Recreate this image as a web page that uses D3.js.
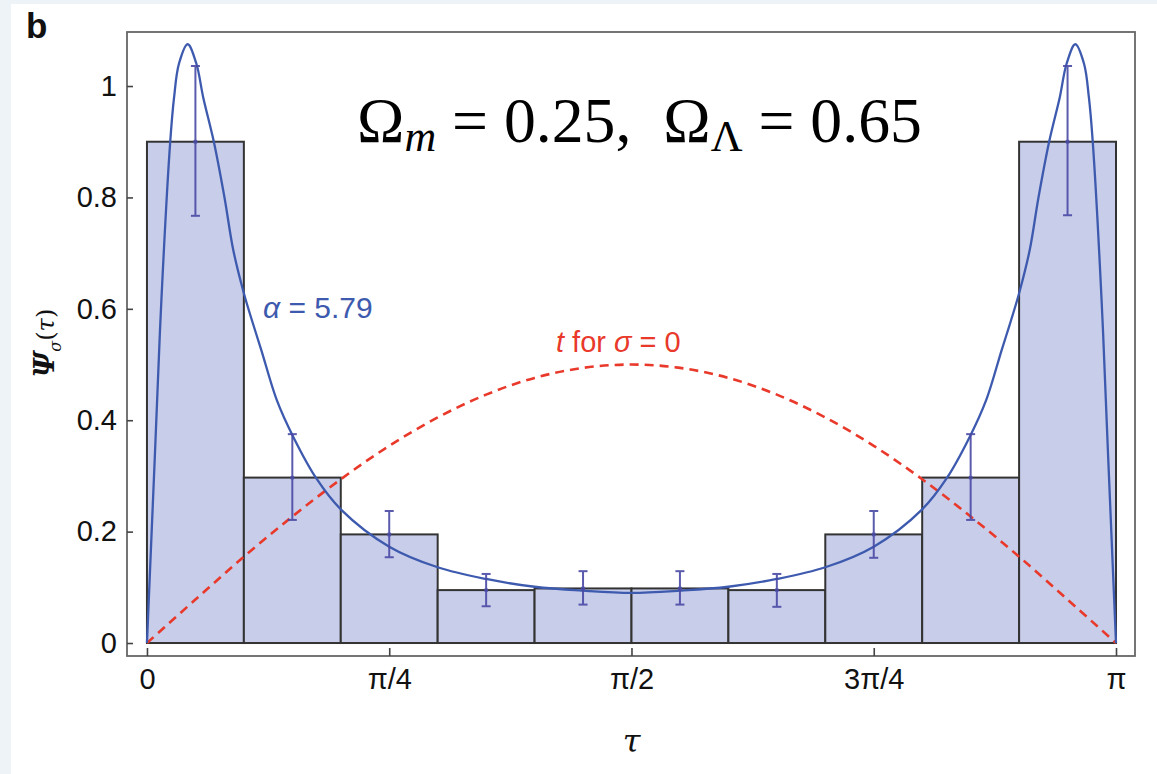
<!DOCTYPE html>
<html><head><meta charset="utf-8">
<script src="https://cdn.jsdelivr.net/npm/d3@7"></script>
<style>body{margin:0;background:#fff;} svg{display:block}</style>
</head><body>
<script>
// ---- data (τ expressed in units of π) ----
const binEdges = [0, 0.1, 0.2, 0.3, 0.4, 0.5, 0.6, 0.7, 0.8, 0.9, 1.0];
const binValues = [0.90, 0.297, 0.195, 0.095, 0.098, 0.098, 0.095, 0.195, 0.297, 0.90];
const errLow  = [0.767, 0.221, 0.154, 0.066, 0.069, 0.069, 0.065, 0.153, 0.221, 0.768];
const errHigh = [1.036, 0.375, 0.237, 0.124, 0.129, 0.129, 0.124, 0.237, 0.375, 1.036];

const fitTau = [0, 0.008, 0.015, 0.024, 0.028, 0.033, 0.042, 0.051, 0.058, 0.069, 0.080, 0.089, 0.100,
  0.110, 0.118, 0.134, 0.151, 0.175, 0.200, 0.250, 0.300, 0.350, 0.400, 0.450, 0.500,
  0.550, 0.600, 0.650, 0.700, 0.750, 0.800, 0.825, 0.849, 0.866, 0.882, 0.890, 0.900, 0.911, 0.920, 0.931, 0.942,
  0.949, 0.958, 0.967, 0.972, 0.976, 0.985, 0.992, 1.000];
const fitPsi = [0, 0.33, 0.62, 0.90, 0.98, 1.04, 1.075, 1.04, 0.98, 0.90, 0.80, 0.706, 0.628,
  0.57, 0.526, 0.436, 0.37, 0.295, 0.24, 0.173, 0.136, 0.115, 0.101, 0.094, 0.090,
  0.094, 0.101, 0.115, 0.136, 0.173, 0.24, 0.295, 0.37, 0.436, 0.526, 0.57, 0.628, 0.706, 0.80, 0.90, 0.98,
  1.04, 1.075, 1.04, 0.98, 0.90, 0.62, 0.33, 0];

const sigma0Tau = [0, 0.05, 0.1, 0.15, 0.2, 0.25, 0.3, 0.35, 0.4, 0.45, 0.5, 0.55, 0.6, 0.65, 0.7, 0.75, 0.8, 0.85, 0.9, 0.95, 1.0];
const sigma0T   = [0, 0.078, 0.155, 0.227, 0.294, 0.354, 0.405, 0.446, 0.476, 0.494, 0.5, 0.494, 0.476, 0.446, 0.405, 0.354, 0.294, 0.227, 0.155, 0.078, 0];

const xTickValues = [0, 0.25, 0.5, 0.75, 1];
const xTickLabels = ["0", "π/4", "π/2", "3π/4", "π"];
const yTickValues = [0, 0.2, 0.4, 0.6, 0.8, 1];
const yTickLabels = ["0", "0.2", "0.4", "0.6", "0.8", "1"];

// ---- layout ----
const W = 1157, H = 774;
const plot = {left: 127, top: 32, right: 1135, bottom: 656};

const svg = d3.select("body").append("svg").attr("width", W).attr("height", H);

// background strips
svg.append("rect").attr("width", W).attr("height", H).attr("fill", "#eef3f7");
svg.append("rect").attr("x", 11).attr("y", 4).attr("width", W - 11).attr("height", H - 4).attr("fill", "#ffffff");

const x = d3.scaleLinear().domain([-0.0206, 1.0196]).range([plot.left, plot.right]);
const y = d3.scaleLinear().domain([-0.0233, 1.097]).range([plot.bottom, plot.top]);

// bars
const bins = binValues.map((v, i) => ({x0: binEdges[i], x1: binEdges[i + 1], v, lo: errLow[i], hi: errHigh[i]}));
svg.append("g").selectAll("rect").data(bins).join("rect")
  .attr("x", d => x(d.x0)).attr("y", d => y(d.v))
  .attr("width", d => x(d.x1) - x(d.x0)).attr("height", d => y(0) - y(d.v))
  .attr("fill", "#c8cdea").attr("stroke", "#333").attr("stroke-width", 2);

// red dashed σ=0 curve
svg.append("path")
  .datum(sigma0Tau.map((t, i) => [t, sigma0T[i]]))
  .attr("d", d3.line().x(d => x(d[0])).y(d => y(d[1])).curve(d3.curveCatmullRom))
  .attr("fill", "none").attr("stroke", "#e8392b").attr("stroke-width", 2.6)
  .attr("stroke-dasharray", "9,6");

// blue fit curve
svg.append("path")
  .datum(fitTau.map((t, i) => [t, fitPsi[i]]))
  .attr("d", d3.line().x(d => x(d[0])).y(d => y(d[1])).curve(d3.curveCatmullRom.alpha(0.5)))
  .attr("fill", "none").attr("stroke", "#3d5aae").attr("stroke-width", 2.3);

// error bars
const eg = svg.append("g").attr("stroke", "#4a4aa6").attr("stroke-width", 2).attr("opacity", 0.9);
bins.forEach(d => {
  const cx = x((d.x0 + d.x1) / 2);
  eg.append("line").attr("x1", cx).attr("x2", cx).attr("y1", y(d.lo)).attr("y2", y(d.hi));
  eg.append("line").attr("x1", cx - 4.5).attr("x2", cx + 4.5).attr("y1", y(d.lo)).attr("y2", y(d.lo));
  eg.append("line").attr("x1", cx - 4.5).attr("x2", cx + 4.5).attr("y1", y(d.hi)).attr("y2", y(d.hi));
  eg.append("circle").attr("cx", cx).attr("cy", y(d.v)).attr("r", 2.2).attr("fill", "#4a4aa6").attr("stroke", "none");
});

// frame
svg.append("rect").attr("x", plot.left).attr("y", plot.top)
  .attr("width", plot.right - plot.left).attr("height", plot.bottom - plot.top)
  .attr("fill", "none").attr("stroke", "#666").attr("stroke-width", 1.8);

// axes
const fontTick = "'Liberation Sans', Arial, sans-serif";
const yAxis = svg.append("g").attr("transform", `translate(${plot.left},0)`)
  .call(d3.axisLeft(y).tickValues(yTickValues).tickFormat((d, i) => yTickLabels[i]).tickSize(-6).tickPadding(10));
const xAxis = svg.append("g").attr("transform", `translate(0,${plot.bottom})`)
  .call(d3.axisBottom(x).tickValues(xTickValues).tickFormat((d, i) => xTickLabels[i]).tickSize(-8).tickPadding(12));
[yAxis, xAxis].forEach(a => {
  a.select(".domain").remove();
  a.selectAll(".tick line").attr("stroke", "#444").attr("stroke-width", 1.6);
  a.selectAll(".tick text").attr("fill", "#111").style("font-family", fontTick).style("font-size", "29px");
});

// axis titles
svg.append("text").attr("x", x(0.5)).attr("y", 752).attr("text-anchor", "middle")
  .style("font-family", "'DejaVu Serif', serif").style("font-style", "italic").style("font-size", "32px")
  .attr("fill", "#111").text("τ");

const yl = svg.append("text").attr("transform", "translate(54,343) rotate(-90)")
  .attr("text-anchor", "middle").attr("fill", "#111")
  .style("font-family", "'DejaVu Serif', serif").style("font-size", "24px");
yl.append("tspan").style("font-weight", "bold").style("font-style", "italic").style("font-size", "28px").text("Ψ");
yl.append("tspan").attr("dy", 7).style("font-style", "italic").style("font-size", "16px").text("σ");
yl.append("tspan").attr("dy", -7).text("(");
yl.append("tspan").style("font-style", "italic").text("τ");
yl.append("tspan").text(")");

// panel letter
svg.append("text").attr("x", 26).attr("y", 38)
  .style("font-family", "'Liberation Sans', Arial, sans-serif").style("font-weight", "bold").style("font-size", "35px")
  .attr("fill", "#111").text("b");

// curve labels
const al = svg.append("text").attr("x", 263).attr("y", 318).attr("fill", "#3d5aae")
  .style("font-family", fontTick).style("font-size", "30px");
al.append("tspan").style("font-style", "italic").text("α");
al.append("tspan").text(" = 5.79");

const tl = svg.append("text").attr("x", 556).attr("y", 352).attr("fill", "#e8392b")
  .style("font-family", fontTick).style("font-size", "29px");
tl.append("tspan").style("font-style", "italic").text("t");
tl.append("tspan").text(" for ");
tl.append("tspan").style("font-style", "italic").text("σ");
tl.append("tspan").text(" = 0");

// cosmology title
const tt = svg.append("text").attr("x", 357).attr("y", 142).attr("fill", "#000")
  .style("font-family", "'Liberation Serif', 'Times New Roman', serif").style("font-size", "58px");
tt.append("tspan").text("Ω");
tt.append("tspan").attr("dy", 9).style("font-style", "italic").style("font-size", "40px").text("m");
tt.append("tspan").attr("dy", -9).text("\u00a0=\u00a00.25,\u00a0\u00a0Ω");
tt.append("tspan").attr("dy", 9).style("font-size", "40px").text("Λ");
tt.append("tspan").attr("dy", -9).text("\u00a0=\u00a00.65");
const bw = tt.node().getBBox().width;
const targetW = 565;
if (bw > 0) {
  const k = targetW / bw;
  tt.style("font-size", (58 * k) + "px");
  tt.selectAll("tspan").each(function() {
    const n = parseFloat(this.style.fontSize || 0);
    if (n) d3.select(this).style("font-size", (n * k) + "px");
  });
}
</script>
</body></html>
